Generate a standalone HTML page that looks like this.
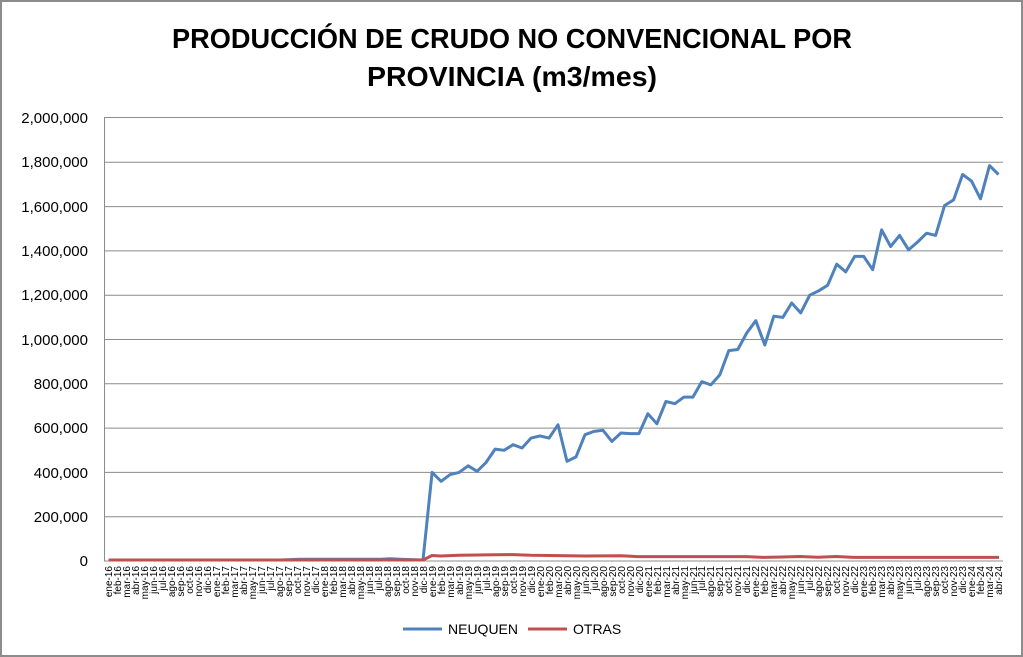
<!DOCTYPE html>
<html><head><meta charset="utf-8"><style>
html,body{margin:0;padding:0;background:#fff}
svg{display:block}
text{font-family:"Liberation Sans",sans-serif;fill:#000}
.y{font-size:15px;text-anchor:end}
.x text{font-size:10px;text-anchor:end}
</style></head><body>
<svg width="1023" height="657" viewBox="0 0 1023 657" xmlns="http://www.w3.org/2000/svg">
<rect x="1" y="1" width="1021" height="655" fill="#fff" stroke="#8c8c8c" stroke-width="2"/>
<text x="512" y="48" font-size="28" font-weight="bold" text-anchor="middle" textLength="680" lengthAdjust="spacingAndGlyphs">PRODUCCIÓN DE CRUDO NO CONVENCIONAL POR</text>
<text x="512" y="86" font-size="28" font-weight="bold" text-anchor="middle" textLength="290" lengthAdjust="spacingAndGlyphs">PROVINCIA (m3/mes)</text>
<g stroke="#8c8c8c" stroke-width="1">
<line x1="104" y1="117.5" x2="1003" y2="117.5"/>
<line x1="104" y1="162.3" x2="1003" y2="162.3"/>
<line x1="104" y1="206.6" x2="1003" y2="206.6"/>
<line x1="104" y1="250.9" x2="1003" y2="250.9"/>
<line x1="104" y1="295.2" x2="1003" y2="295.2"/>
<line x1="104" y1="339.5" x2="1003" y2="339.5"/>
<line x1="104" y1="383.8" x2="1003" y2="383.8"/>
<line x1="104" y1="428.1" x2="1003" y2="428.1"/>
<line x1="104" y1="472.4" x2="1003" y2="472.4"/>
<line x1="104" y1="516.7" x2="1003" y2="516.7"/>
<line x1="104" y1="561" x2="1003" y2="561"/>
<line x1="104.5" y1="117" x2="104.5" y2="561"/>
</g>
<g class="y">
<text x="88" y="123">2,000,000</text>
<text x="88" y="167">1,800,000</text>
<text x="88" y="212">1,600,000</text>
<text x="88" y="256">1,400,000</text>
<text x="88" y="300">1,200,000</text>
<text x="88" y="345">1,000,000</text>
<text x="88" y="389">800,000</text>
<text x="88" y="433">600,000</text>
<text x="88" y="478">400,000</text>
<text x="88" y="522">200,000</text>
<text x="88" y="566">0</text>
</g>
<polyline fill="none" stroke="#4f81bd" stroke-width="3" stroke-linejoin="round" points="108.5,560 280,560 300,559.3 380,559.3 390,558.8 400,559.3 423,560 432.1,472.4 441.1,481.3 450.1,474.6 459.1,472.4 468.1,465.8 477.1,471.3 486.1,462.4 495.1,449.1 504.1,450.3 513.1,444.7 522,448 531,438.1 540,435.9 549,438.1 558,424.8 567,461.3 576,456.9 585,434.7 594,431.4 603,430.3 611.9,441.4 620.9,433 629.9,433.6 638.9,433.6 647.9,413.7 656.9,423.7 665.9,401.5 674.9,403.7 683.9,397.1 692.9,397.1 701.8,381.6 710.8,384.9 719.8,374.9 728.8,350.6 737.8,349.5 746.8,332.9 755.8,320.7 764.8,345 773.8,316.2 782.8,317.4 791.7,303 800.7,312.9 809.7,295.2 818.7,290.8 827.7,285.2 836.7,264.2 845.7,271.9 854.7,256.4 863.7,256.4 872.7,269.7 881.6,229.9 890.6,246.5 899.6,235.4 908.6,249.8 917.6,242 926.6,233.2 935.6,235.4 944.6,205.5 953.6,199.9 962.6,174.5 971.5,181.1 980.5,198.8 989.5,165.6 998.5,174.5"/>
<polyline fill="none" stroke="#c0504d" stroke-width="3" stroke-linejoin="round" points="108.5,560 423,560 432,555.5 441,556 459,555.3 495,554.8 513,554.6 531,555.3 558,555.6 567,555.8 585,556 621,555.8 638,556.6 700,556.6 746,556.6 764,557.4 782,557 800,556.5 818,557.2 836,556.5 854,557.4 872,557.4 999,557.4"/>
<g class="x">
<text transform="translate(112,566) rotate(-90)">ene-16</text>
<text transform="translate(121,566) rotate(-90)">feb-16</text>
<text transform="translate(130,566) rotate(-90)">mar-16</text>
<text transform="translate(139,566) rotate(-90)">abr-16</text>
<text transform="translate(148,566) rotate(-90)">may-16</text>
<text transform="translate(157,566) rotate(-90)">jun-16</text>
<text transform="translate(166,566) rotate(-90)">jul-16</text>
<text transform="translate(175,566) rotate(-90)">ago-16</text>
<text transform="translate(184,566) rotate(-90)">sep-16</text>
<text transform="translate(193,566) rotate(-90)">oct-16</text>
<text transform="translate(202,566) rotate(-90)">nov-16</text>
<text transform="translate(211,566) rotate(-90)">dic-16</text>
<text transform="translate(220,566) rotate(-90)">ene-17</text>
<text transform="translate(229,566) rotate(-90)">feb-17</text>
<text transform="translate(238,566) rotate(-90)">mar-17</text>
<text transform="translate(247,566) rotate(-90)">abr-17</text>
<text transform="translate(256,566) rotate(-90)">may-17</text>
<text transform="translate(265,566) rotate(-90)">jun-17</text>
<text transform="translate(274,566) rotate(-90)">jul-17</text>
<text transform="translate(283,566) rotate(-90)">ago-17</text>
<text transform="translate(292,566) rotate(-90)">sep-17</text>
<text transform="translate(301,566) rotate(-90)">oct-17</text>
<text transform="translate(310,566) rotate(-90)">nov-17</text>
<text transform="translate(319,566) rotate(-90)">dic-17</text>
<text transform="translate(328,566) rotate(-90)">ene-18</text>
<text transform="translate(337,566) rotate(-90)">feb-18</text>
<text transform="translate(346,566) rotate(-90)">mar-18</text>
<text transform="translate(355,566) rotate(-90)">abr-18</text>
<text transform="translate(364,566) rotate(-90)">may-18</text>
<text transform="translate(373,566) rotate(-90)">jun-18</text>
<text transform="translate(382,566) rotate(-90)">jul-18</text>
<text transform="translate(391,566) rotate(-90)">ago-18</text>
<text transform="translate(400,566) rotate(-90)">sep-18</text>
<text transform="translate(409,566) rotate(-90)">oct-18</text>
<text transform="translate(418,566) rotate(-90)">nov-18</text>
<text transform="translate(427,566) rotate(-90)">dic-18</text>
<text transform="translate(436,566) rotate(-90)">ene-19</text>
<text transform="translate(445,566) rotate(-90)">feb-19</text>
<text transform="translate(454,566) rotate(-90)">mar-19</text>
<text transform="translate(463,566) rotate(-90)">abr-19</text>
<text transform="translate(472,566) rotate(-90)">may-19</text>
<text transform="translate(481,566) rotate(-90)">jun-19</text>
<text transform="translate(490,566) rotate(-90)">jul-19</text>
<text transform="translate(499,566) rotate(-90)">ago-19</text>
<text transform="translate(508,566) rotate(-90)">sep-19</text>
<text transform="translate(517,566) rotate(-90)">oct-19</text>
<text transform="translate(526,566) rotate(-90)">nov-19</text>
<text transform="translate(535,566) rotate(-90)">dic-19</text>
<text transform="translate(544,566) rotate(-90)">ene-20</text>
<text transform="translate(553,566) rotate(-90)">feb-20</text>
<text transform="translate(562,566) rotate(-90)">mar-20</text>
<text transform="translate(571,566) rotate(-90)">abr-20</text>
<text transform="translate(580,566) rotate(-90)">may-20</text>
<text transform="translate(589,566) rotate(-90)">jun-20</text>
<text transform="translate(598,566) rotate(-90)">jul-20</text>
<text transform="translate(607,566) rotate(-90)">ago-20</text>
<text transform="translate(616,566) rotate(-90)">sep-20</text>
<text transform="translate(625,566) rotate(-90)">oct-20</text>
<text transform="translate(634,566) rotate(-90)">nov-20</text>
<text transform="translate(643,566) rotate(-90)">dic-20</text>
<text transform="translate(652,566) rotate(-90)">ene-21</text>
<text transform="translate(661,566) rotate(-90)">feb-21</text>
<text transform="translate(670,566) rotate(-90)">mar-21</text>
<text transform="translate(679,566) rotate(-90)">abr-21</text>
<text transform="translate(688,566) rotate(-90)">may-21</text>
<text transform="translate(697,566) rotate(-90)">jun-21</text>
<text transform="translate(705,566) rotate(-90)">jul-21</text>
<text transform="translate(714,566) rotate(-90)">ago-21</text>
<text transform="translate(723,566) rotate(-90)">sep-21</text>
<text transform="translate(732,566) rotate(-90)">oct-21</text>
<text transform="translate(741,566) rotate(-90)">nov-21</text>
<text transform="translate(750,566) rotate(-90)">dic-21</text>
<text transform="translate(759,566) rotate(-90)">ene-22</text>
<text transform="translate(768,566) rotate(-90)">feb-22</text>
<text transform="translate(777,566) rotate(-90)">mar-22</text>
<text transform="translate(786,566) rotate(-90)">abr-22</text>
<text transform="translate(795,566) rotate(-90)">may-22</text>
<text transform="translate(804,566) rotate(-90)">jun-22</text>
<text transform="translate(813,566) rotate(-90)">jul-22</text>
<text transform="translate(822,566) rotate(-90)">ago-22</text>
<text transform="translate(831,566) rotate(-90)">sep-22</text>
<text transform="translate(840,566) rotate(-90)">oct-22</text>
<text transform="translate(849,566) rotate(-90)">nov-22</text>
<text transform="translate(858,566) rotate(-90)">dic-22</text>
<text transform="translate(867,566) rotate(-90)">ene-23</text>
<text transform="translate(876,566) rotate(-90)">feb-23</text>
<text transform="translate(885,566) rotate(-90)">mar-23</text>
<text transform="translate(894,566) rotate(-90)">abr-23</text>
<text transform="translate(903,566) rotate(-90)">may-23</text>
<text transform="translate(912,566) rotate(-90)">jun-23</text>
<text transform="translate(921,566) rotate(-90)">jul-23</text>
<text transform="translate(930,566) rotate(-90)">ago-23</text>
<text transform="translate(939,566) rotate(-90)">sep-23</text>
<text transform="translate(948,566) rotate(-90)">oct-23</text>
<text transform="translate(957,566) rotate(-90)">nov-23</text>
<text transform="translate(966,566) rotate(-90)">dic-23</text>
<text transform="translate(975,566) rotate(-90)">ene-24</text>
<text transform="translate(984,566) rotate(-90)">feb-24</text>
<text transform="translate(993,566) rotate(-90)">mar-24</text>
<text transform="translate(1002,566) rotate(-90)">abr-24</text>
</g>
<line x1="403" y1="629" x2="442" y2="629" stroke="#4f81bd" stroke-width="3"/>
<text x="448" y="634" font-size="14">NEUQUEN</text>
<line x1="528" y1="629" x2="567" y2="629" stroke="#c0504d" stroke-width="3"/>
<text x="573" y="634" font-size="14">OTRAS</text>
</svg>
</body></html>
